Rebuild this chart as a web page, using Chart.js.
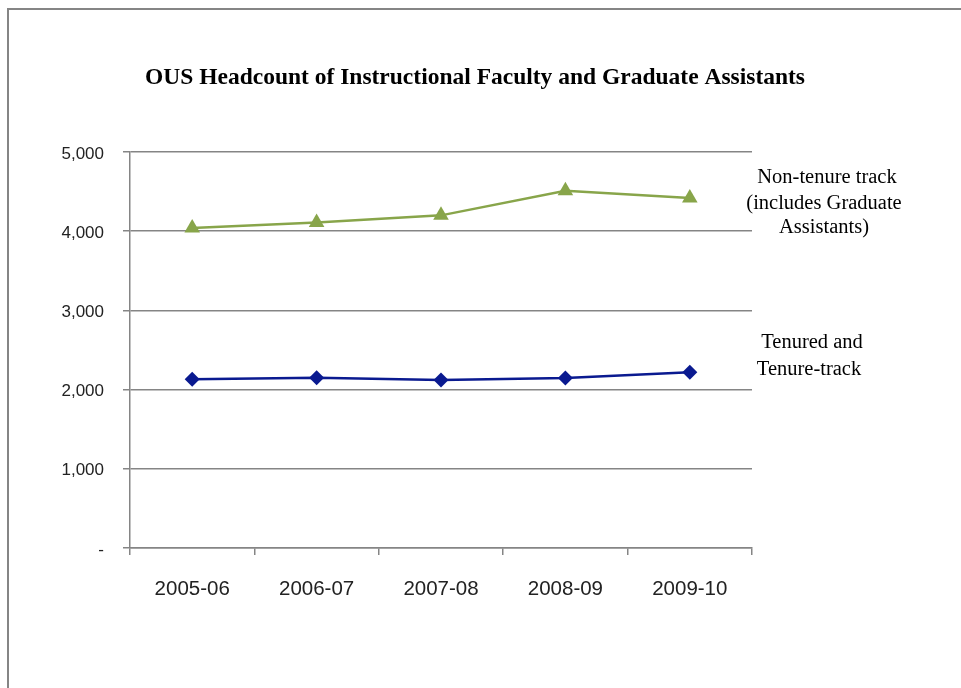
<!DOCTYPE html>
<html>
<head>
<meta charset="utf-8">
<script src="https://cdn.jsdelivr.net/npm/chart.js@4.4.1/dist/chart.umd.min.js"></script>
<style>
  html, body { margin: 0; padding: 0; background: #fff; overflow: hidden; }
  #frame { position: absolute; left: 7px; top: 8px; width: 1100px; height: 900px; border: 2px solid #858585; }
  #c { position: absolute; left: 0; top: 0; }
</style>
</head>
<body>
<div id="frame"></div>
<canvas id="c" width="961" height="688"></canvas>
<script>
const categories = ['2005-06', '2006-07', '2007-08', '2008-09', '2009-10'];
const nonTenure = [4040, 4110, 4200, 4510, 4420];
const tenured = [2130, 2150, 2120, 2145, 2220];
const yTicks = [0, 1000, 2000, 3000, 4000, 5000];
const titleText = 'OUS Headcount of Instructional Faculty and Graduate Assistants';
const nonTenureLabel = ['Non-tenure track', '(includes Graduate', 'Assistants)'];
const tenuredLabel = ['Tenured and', 'Tenure-track'];

const textPlugin = {
  id: 'texts',
  afterDraw(chart) {
    const ctx = chart.ctx;
    ctx.save();
    ctx.fillStyle = '#000';
    ctx.textAlign = 'center';
    ctx.textBaseline = 'middle';
    ctx.font = 'bold 23.5px "Liberation Serif", "Times New Roman", serif';
    ctx.fillText(titleText, 475, 78);
    ctx.font = '20.5px "Liberation Serif", "Times New Roman", serif';
    const ys1 = [178, 204, 228];
    const xs1 = [827, 824, 824];
    nonTenureLabel.forEach((t, i) => ctx.fillText(t, xs1[i], ys1[i]));
    const ys2 = [343, 370];
    const xs2 = [812, 809];
    tenuredLabel.forEach((t, i) => ctx.fillText(t, xs2[i], ys2[i]));
    ctx.restore();
  }
};

new Chart(document.getElementById('c'), {
  type: 'line',
  data: {
    labels: categories,
    datasets: [
      {
        label: 'Non-tenure track (includes Graduate Assistants)',
        data: nonTenure,
        borderColor: '#88a54a',
        backgroundColor: '#88a54a',
        borderWidth: 2.5,
        pointStyle: 'triangle',
        pointRadius: 9,
        pointBorderWidth: 0,
        tension: 0
      },
      {
        label: 'Tenured and Tenure-track',
        data: tenured,
        borderColor: '#0a1a90',
        backgroundColor: '#0a1a90',
        borderWidth: 2.5,
        pointStyle: 'rectRot',
        pointRadius: 7.5,
        pointBorderWidth: 0,
        tension: 0
      }
    ]
  },
  options: {
    responsive: false,
    animation: false,
    devicePixelRatio: 1,
    layout: { padding: { left: 0, top: 152, right: 209, bottom: 0 } },
    plugins: { legend: { display: false }, title: { display: false }, tooltip: { enabled: false } },
    scales: {
      x: {
        type: 'category',
        offset: true,
        grid: { display: true, drawOnChartArea: false, drawTicks: true, tickLength: 7, color: '#858585', lineWidth: 1.5, offset: true },
        border: { display: true, color: '#858585', width: 1.5 },
        ticks: { color: '#222', font: { family: '"Liberation Sans", Arial, sans-serif', size: 20.5 }, padding: 22, maxRotation: 0 },
        afterFit(s) { s.height = 140; }
      },
      y: {
        min: 0, max: 5000,
        afterBuildTicks(s) { s.ticks = yTicks.map(v => ({ value: v })); },
        grid: { color: '#858585', lineWidth: 1.5, drawTicks: true, tickLength: 7 },
        border: { display: true, color: '#858585', width: 1.5 },
        ticks: {
          color: '#222',
          font: { family: '"Liberation Sans", Arial, sans-serif', size: 17 },
          padding: 19,
          labelOffset: 2,
          callback: v => v === 0 ? '-' : v.toLocaleString('en-US')
        },
        afterFit(s) { s.width = 130; }
      }
    }
  },
  plugins: [textPlugin]
});
</script>
</body>
</html>
